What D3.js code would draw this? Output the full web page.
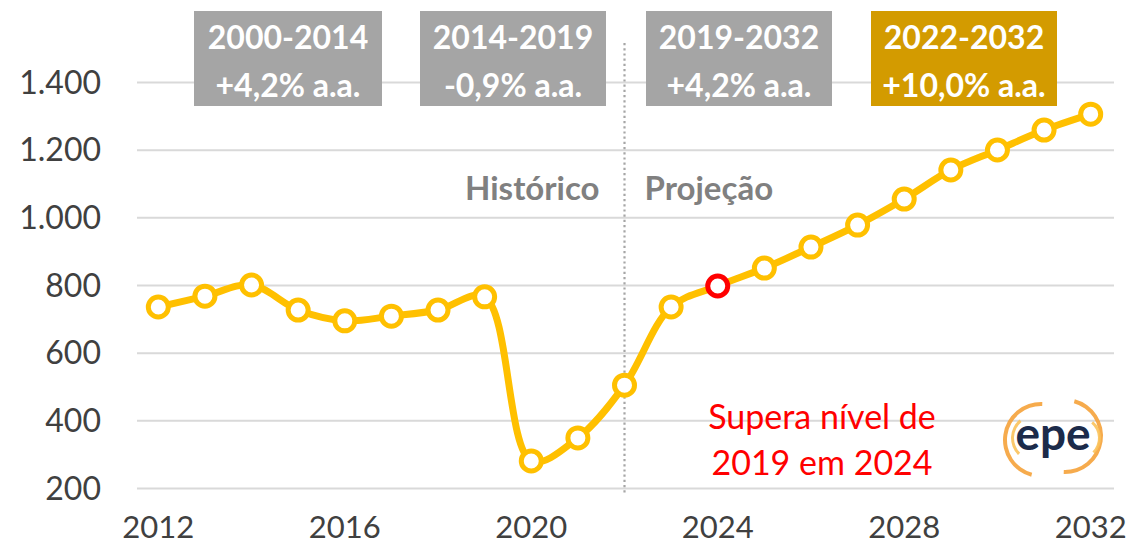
<!DOCTYPE html>
<html>
<head>
<meta charset="utf-8">
<script src="https://cdn.jsdelivr.net/npm/d3@7"></script>
<style>
  html, body { margin: 0; padding: 0; background: #fff; }
  svg { display: block; font-family: Lato, "Open Sans", sans-serif; }
</style>
</head>
<body>
<svg id="chart" width="1132" height="550"></svg>
<script>
// Annual series, historical (to 2022) and projected (2023-2032)
const years = [2012, 2013, 2014, 2015, 2016, 2017, 2018, 2019, 2020, 2021, 2022,
               2023, 2024, 2025, 2026, 2027, 2028, 2029, 2030, 2031, 2032];
const values = [735, 767, 800, 726, 694, 708, 726, 765, 280, 348, 504,
                735, 797, 850, 912, 977, 1054, 1140, 1199, 1258, 1305];
const highlightYear = 2024;
const splitYear = 2022;

const yTicks = [200, 400, 600, 800, 1000, 1200, 1400];
const xTickYears = [2012, 2016, 2020, 2024, 2028, 2032];

// Growth-rate boxes
const periodLabels = ["2000-2014", "2014-2019", "2019-2032", "2022-2032"];
const rateLabels = ["+4,2% a.a.", "-0,9% a.a.", "+4,2% a.a.", "+10,0% a.a."];

const phaseLabels = ["Histórico", "Projeção"];
const noteLines = ["Supera nível de", "2019 em 2024"];

const svg = d3.select("#chart");
const fmt = d3.formatLocale({decimal: ",", thousands: ".", grouping: [3], currency: ["R$", ""]}).format(",d");

const x = d3.scaleBand().domain(years).range([135, 1114]);
const cx = d => x(d) + x.bandwidth() / 2;
const y = d3.scaleLinear().domain([200, 1400]).range([488, 82]);

// gridlines
svg.append("g")
  .attr("transform", "translate(137,0)")
  .call(d3.axisLeft(y).tickValues(yTicks).tickSize(-(1114 - 137)).tickFormat(""))
  .call(g => g.select(".domain").remove())
  .call(g => g.selectAll("line").attr("stroke", "#d9d9d9").attr("stroke-width", 2));

// y tick labels
svg.append("g")
  .attr("transform", "translate(101,0)")
  .call(d3.axisLeft(y).tickValues(yTicks).tickSize(0).tickPadding(0).tickFormat(fmt))
  .call(g => g.select(".domain").remove())
  .call(g => g.selectAll("text")
    .attr("font-family", "Lato, sans-serif")
    .attr("font-size", 32)
    .attr("fill", "#404040")
    .attr("dy", "0.35em"));

// x tick labels
svg.append("g")
  .attr("transform", "translate(0,516)")
  .call(d3.axisBottom(x).tickValues(xTickYears).tickSize(0).tickPadding(0))
  .call(g => g.select(".domain").remove())
  .call(g => g.selectAll("text")
    .attr("font-family", "Lato, sans-serif")
    .attr("font-size", 31)
    .attr("fill", "#404040")
    .attr("dy", "0.72em"));

// divider between history and projection
svg.append("line")
  .attr("x1", cx(splitYear)).attr("x2", cx(splitYear))
  .attr("y1", 43).attr("y2", 494)
  .attr("stroke", "#a6a6a6").attr("stroke-width", 2.2)
  .attr("stroke-dasharray", "2.2 3");

// phase labels
svg.append("text")
  .attr("x", cx(splitYear) - 25).attr("y", 200)
  .attr("text-anchor", "end")
  .attr("font-size", 33).attr("font-weight", 700).attr("fill", "#808080")
  .text(phaseLabels[0]);
svg.append("text")
  .attr("x", cx(splitYear) + 20).attr("y", 200)
  .attr("text-anchor", "start")
  .attr("font-size", 33).attr("font-weight", 700).attr("fill", "#808080")
  .text(phaseLabels[1]);

// growth-rate boxes
const boxX = [194, 420, 646, 871];
const boxW = [188, 186, 186, 186];
const boxFill = ["#a5a5a5", "#a5a5a5", "#a5a5a5", "#d39b00"];
periodLabels.forEach((p, i) => {
  const g = svg.append("g");
  g.append("rect")
    .attr("x", boxX[i]).attr("y", 11)
    .attr("width", boxW[i]).attr("height", 95)
    .attr("fill", boxFill[i]);
  g.append("text")
    .attr("x", boxX[i] + boxW[i] / 2).attr("y", 49)
    .attr("text-anchor", "middle")
    .attr("font-size", 32).attr("font-weight", 700).attr("fill", "#fff")
    .text(p);
  g.append("text")
    .attr("x", boxX[i] + boxW[i] / 2).attr("y", 97)
    .attr("text-anchor", "middle")
    .attr("font-size", 32).attr("font-weight", 700).attr("fill", "#fff")
    .text(rateLabels[i]);
});

// series line
const line = d3.line()
  .x((d, i) => cx(years[i]))
  .y(d => y(d))
  .curve(d3.curveCatmullRom.alpha(0.5));

svg.append("path")
  .datum(values)
  .attr("d", line)
  .attr("fill", "none")
  .attr("stroke", "#ffc000")
  .attr("stroke-width", 7)
  .attr("stroke-linejoin", "round");

svg.append("g").selectAll("circle")
  .data(values)
  .join("circle")
  .attr("cx", (d, i) => cx(years[i]))
  .attr("cy", d => y(d))
  .attr("r", 10)
  .attr("fill", "#fff")
  .attr("stroke", (d, i) => years[i] === highlightYear ? "#ff0000" : "#ffc000")
  .attr("stroke-width", 5);

// note
noteLines.forEach((t, i) => {
  svg.append("text")
    .attr("x", 822).attr("y", 429 + i * 46)
    .attr("text-anchor", "middle")
    .attr("font-size", 34).attr("fill", "#ff0000")
    .text(t);
});

// epe logo
const logo = svg.append("g").attr("transform", "translate(1053,438)");
const arc = d3.arc();
const deg = Math.PI / 180;
const arcs = [
  {cx: -12, cy: 2, r0: 34, r1: 38, a0: 195, a1: 362, c: "#f5a23a"},
  {cx: 12, cy: -2, r0: 34, r1: 38, a0: 15, a1: 182, c: "#f5a23a"},
  {cx: -18, cy: 0, r0: 21, r1: 24, a0: 225, a1: 320, c: "#fbc25a"},
  {cx: 26, cy: 0, r0: 19, r1: 22, a0: 40, a1: 135, c: "#fbc25a"}
];
arcs.forEach(a => {
  logo.append("path")
    .attr("transform", `translate(${a.cx},${a.cy})`)
    .attr("d", arc({innerRadius: a.r0, outerRadius: a.r1, startAngle: a.a0 * deg, endAngle: a.a1 * deg}))
    .attr("fill", a.c)
    .attr("opacity", 0.9);
});
logo.append("text")
  .attr("x", 0).attr("y", 12)
  .attr("text-anchor", "middle")
  .attr("font-family", "Lato, sans-serif")
  .attr("font-size", 46).attr("font-weight", 700)
  .attr("fill", "#1c2b4a")
  .text("epe");
</script>
</body>
</html>
